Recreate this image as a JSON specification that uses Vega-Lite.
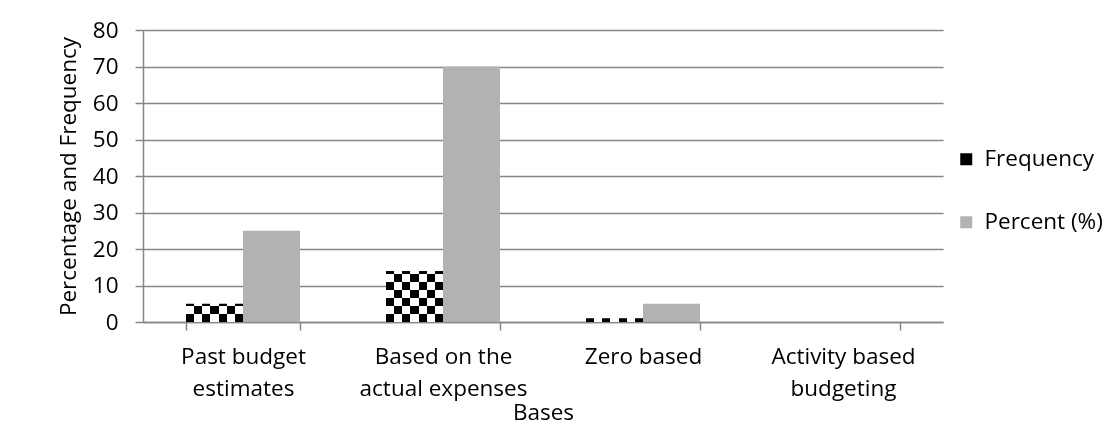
{
  "$schema": "https://vega.github.io/schema/vega-lite/v6.json",
  "autosize": {"type": "none"},
  "padding": {"left": 143, "top": 30, "right": 174, "bottom": 104},
  "width": 800,
  "height": 292,
  "background": "white",
  "config": {
    "view": {"stroke": null},
    "font": "Open Sans",
    "axis": {
      "labelFont": "Open Sans", "titleFont": "Open Sans",
      "labelFontSize": 22.5, "titleFontSize": 22.5, "titleFontWeight": "normal",
      "labelColor": "black", "titleColor": "black",
      "domainColor": "#868686", "domainWidth": 1.5,
      "tickColor": "#868686", "tickWidth": 1.5, "tickSize": 8,
      "gridColor": "#868686", "gridWidth": 1.5
    },
    "legend": {"labelFont": "Open Sans", "labelFontSize": 22.5, "labelColor": "black"}
  },
  "data": {
    "values": [
      {"basis": "Past budget estimates", "series": "Frequency", "value": 5},
      {"basis": "Past budget estimates", "series": "Percent (%)", "value": 25},
      {"basis": "Based on the actual expenses", "series": "Frequency", "value": 14},
      {"basis": "Based on the actual expenses", "series": "Percent (%)", "value": 70},
      {"basis": "Zero based", "series": "Frequency", "value": 1},
      {"basis": "Zero based", "series": "Percent (%)", "value": 5},
      {"basis": "Activity based budgeting", "series": "Frequency", "value": 0},
      {"basis": "Activity based budgeting", "series": "Percent (%)", "value": 0}
    ]
  },
  "encoding": {
    "x": {
      "field": "basis", "type": "nominal", "sort": null,
      "scale": {"paddingInner": 0.43, "paddingOuter": 0.215},
      "axis": {
        "title": "Bases", "labelAngle": 0, "grid": false,
        "tickBand": "extent",
        "labelPadding": 15, "labelLineHeight": 32, "titlePadding": 2,
        "labelExpr": "datum.label == 'Past budget estimates' ? ['Past budget', 'estimates'] : datum.label == 'Based on the actual expenses' ? ['Based on the', 'actual expenses'] : datum.label == 'Activity based budgeting' ? ['Activity based', 'budgeting'] : datum.label"
      }
    },
    "xOffset": {"field": "series", "type": "nominal", "scale": {"domain": ["Frequency", "Percent (%)"]}},
    "y": {
      "field": "value", "type": "quantitative",
      "scale": {"domain": [0, 80]},
      "axis": {
        "title": "Percentage and Frequency", "values": [0, 10, 20, 30, 40, 50, 60, 70, 80],
        "labelPadding": 17, "titlePadding": 12
      }
    }
  },
  "layer": [
    {
      "transform": [{"filter": "datum.series == 'Frequency'"}],
      "mark": {
        "type": "bar",
        "fill": {"gradient": "linear", "x1": 0, "y1": 0, "x2": 1, "y2": 0, "stops": [
          {"offset": 0, "color": "black"}, {"offset": 0.142857, "color": "black"},
          {"offset": 0.142857, "color": "white"}, {"offset": 0.285714, "color": "white"},
          {"offset": 0.285714, "color": "black"}, {"offset": 0.428571, "color": "black"},
          {"offset": 0.428571, "color": "white"}, {"offset": 0.571429, "color": "white"},
          {"offset": 0.571429, "color": "black"}, {"offset": 0.714286, "color": "black"},
          {"offset": 0.714286, "color": "white"}, {"offset": 0.857143, "color": "white"},
          {"offset": 0.857143, "color": "black"}, {"offset": 1, "color": "black"}
        ]}
      }
    },
    {
      "transform": [{"filter": "datum.series == 'Frequency'"}],
      "mark": {
        "type": "bar",
        "blend": "difference",
        "fill": {"expr": "{gradient: 'linear', x1: 0, x2: 0, y1: 1 - 160 / (max(datum.value, 0.1) * 3.65), y2: 1, stops: [{offset: 0, color: 'white'}, {offset: 0.05, color: 'white'}, {offset: 0.05, color: 'black'}, {offset: 0.1, color: 'black'}, {offset: 0.1, color: 'white'}, {offset: 0.15, color: 'white'}, {offset: 0.15, color: 'black'}, {offset: 0.2, color: 'black'}, {offset: 0.2, color: 'white'}, {offset: 0.25, color: 'white'}, {offset: 0.25, color: 'black'}, {offset: 0.3, color: 'black'}, {offset: 0.3, color: 'white'}, {offset: 0.35, color: 'white'}, {offset: 0.35, color: 'black'}, {offset: 0.4, color: 'black'}, {offset: 0.4, color: 'white'}, {offset: 0.45, color: 'white'}, {offset: 0.45, color: 'black'}, {offset: 0.5, color: 'black'}, {offset: 0.5, color: 'white'}, {offset: 0.55, color: 'white'}, {offset: 0.55, color: 'black'}, {offset: 0.6, color: 'black'}, {offset: 0.6, color: 'white'}, {offset: 0.65, color: 'white'}, {offset: 0.65, color: 'black'}, {offset: 0.7, color: 'black'}, {offset: 0.7, color: 'white'}, {offset: 0.75, color: 'white'}, {offset: 0.75, color: 'black'}, {offset: 0.8, color: 'black'}, {offset: 0.8, color: 'white'}, {offset: 0.85, color: 'white'}, {offset: 0.85, color: 'black'}, {offset: 0.9, color: 'black'}, {offset: 0.9, color: 'white'}, {offset: 0.95, color: 'white'}, {offset: 0.95, color: 'black'}, {offset: 1, color: 'black'}]}"}
      }
    },
    {
      "transform": [{"filter": "datum.series == 'Percent (%)'"}],
      "mark": {"type": "bar"},
      "encoding": {
        "color": {
          "field": "series", "type": "nominal",
          "scale": {"domain": ["Frequency", "Percent (%)"], "range": ["black", "#b2b2b2"]},
          "legend": {
            "title": null, "orient": "none", "legendX": 812, "legendY": 118,
            "symbolType": "square", "symbolSize": 144, "symbolStrokeWidth": 0,
            "rowPadding": 40, "labelOffset": 7
          }
        }
      }
    }
  ]
}
